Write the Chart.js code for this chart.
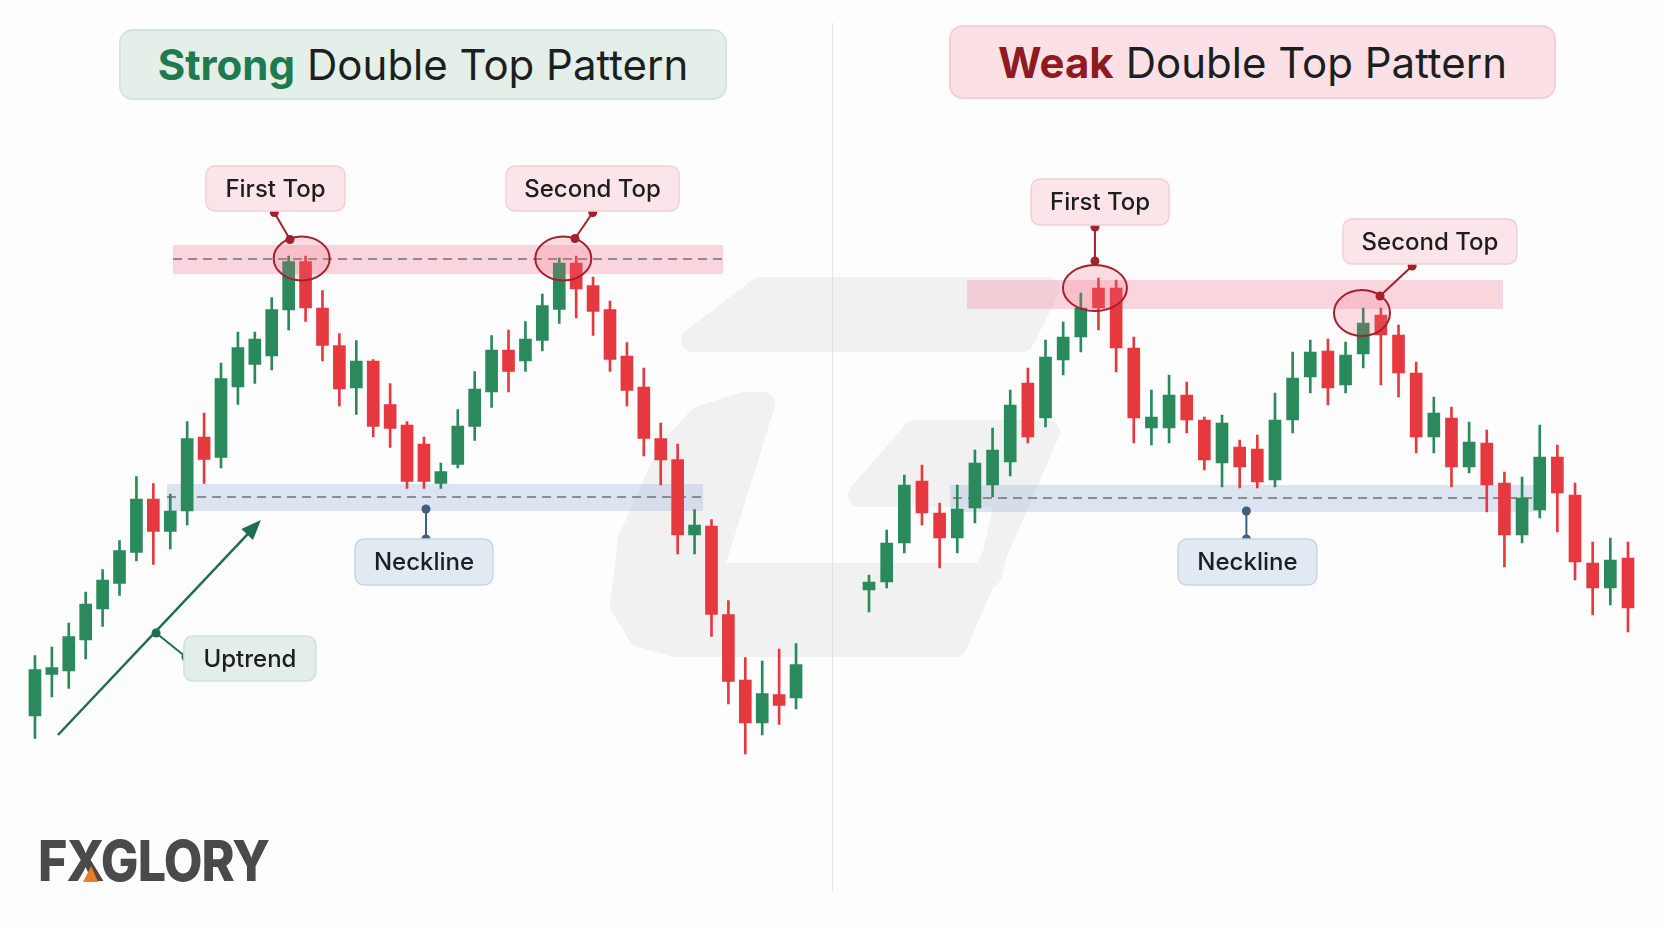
<!DOCTYPE html>
<html>
<head>
<meta charset="utf-8">
<script src="https://cdn.jsdelivr.net/npm/chart.js@4.4.0/dist/chart.umd.min.js"></script>
<style>
  html, body { margin: 0; padding: 0; background: #fdfdfd; }
  #page { position: relative; width: 1664px; height: 928px; overflow: hidden; font-family: Inter, "Open Sans", sans-serif; }
  #mark { position: absolute; left: 0; top: 0; }
  #divider { position: absolute; left: 832px; top: 23px; width: 1px; height: 868px; background: #e3e3e3; }
  canvas { position: absolute; top: 0; }
  .title { position: absolute; display: flex; align-items: center; justify-content: center; box-sizing: border-box;
           border-radius: 14px; font-size: 42px; color: #1c1f22; }
  .title b { font-weight: 700; margin-right: 12px; }
  #titleL { left: 119px; top: 29px; width: 608px; height: 71px; background: #e4efe9; border: 2px solid #d4e5db; }
  #titleL b { color: #1f7a50; }
  #titleR { left: 949px; top: 25px; width: 607px; height: 74px; background: #fbe1e5; border: 2px solid #f6ced5; }
  #titleR b { color: #8e1b1f; }
  #logo { position: absolute; left: 38px; top: 826px; font: 800 57px Inter, sans-serif; color: #4a4a4a;
          letter-spacing: -1px; transform: scaleX(0.88); transform-origin: 0 0; }
  #logoTri { position: absolute; left: 83px; top: 866px; width: 15px; height: 16px; background: #ee7a2a;
             clip-path: polygon(55% 0, 100% 100%, 0 100%); }
</style>
</head>
<body>
<div id="page">
  <svg id="mark" width="1664" height="928">
    <g fill="#f1f1f1" stroke="#f1f1f1" stroke-width="24" stroke-linejoin="round">
      <polygon points="760,289 1048,289 1022,340 693,340"/>
      <polygon points="745,404 763,404 710,575 990,575 1008,495 860,495 915,432 1048,432 955,645 675,645 640,635 622,605 630,540 669,452 700,418"/>
    </g>
  </svg>
  <div id="divider"></div>
  <canvas id="leftChart" width="833" height="928" style="left:0"></canvas>
  <canvas id="rightChart" width="831" height="928" style="left:833px"></canvas>
  <div class="title" id="titleL"><b>Strong</b>Double Top Pattern</div>
  <div class="title" id="titleR"><b>Weak</b>Double Top Pattern</div>
  <div id="logo">FXGLORY</div>
  <div id="logoTri"></div>
</div>
<script>
// strong double top (left panel), one value per candle
const leftOpen  = [108.8, 117.1, 117.8, 124.0, 130.2, 135.3, 141.5, 152.2, 145.7, 149.8, 164.6, 160.5, 174.6, 179.1, 180.8, 190.0,
                   199.7, 190.4, 182.9, 174.4, 179.8, 171.1, 167.0, 163.2, 155.3, 159.1, 166.7, 173.6, 182.0, 179.8, 183.9, 190.1,
                   199.4, 194.9, 190.1, 180.8, 174.6, 164.3, 160.1, 145.0, 146.8, 129.1, 116.0, 107.4, 113.1, 112.4];
const leftHigh  = [120.9, 122.6, 127.4, 133.6, 138.1, 143.9, 156.7, 155.3, 153.2, 167.7, 169.4, 179.4, 185.6, 185.6, 192.5, 200.8,
                   200.8, 193.9, 185.3, 183.9, 180.1, 175.3, 167.7, 164.6, 159.4, 170.1, 177.7, 184.9, 186.0, 187.7, 193.2, 200.4,
                   200.8, 196.6, 191.8, 183.5, 178.4, 167.4, 163.2, 150.1, 148.1, 131.9, 120.5, 119.8, 122.2, 123.3];
const leftLow   = [104.3, 112.6, 114.3, 120.2, 126.7, 132.9, 139.8, 139.1, 142.2, 147.0, 155.3, 158.4, 171.1, 175.3, 178.0, 186.0,
                   187.7, 179.8, 170.8, 169.1, 164.6, 162.5, 154.3, 154.3, 154.3, 158.4, 163.9, 170.5, 173.6, 177.7, 181.8, 187.3,
                   188.4, 184.9, 177.7, 170.8, 160.8, 155.0, 141.2, 141.2, 124.7, 111.2, 101.2, 105.0, 107.1, 110.2];
const leftClose = [118.1, 118.5, 124.7, 131.2, 136.0, 141.9, 152.2, 145.7, 149.8, 164.3, 160.1, 176.3, 182.5, 184.2, 190.1, 199.7,
                   190.4, 182.9, 174.2, 179.8, 166.7, 166.3, 155.7, 155.7, 157.7, 166.8, 174.2, 182.0, 177.7, 184.2, 190.9, 199.4,
                   194.2, 189.7, 180.1, 173.9, 164.3, 160.0, 145.0, 147.0, 129.1, 115.7, 107.4, 113.3, 110.9, 119.1];

// weak double top (right panel)
const rightOpen  = [134.0, 135.6, 143.4, 155.8, 149.4, 144.4, 150.4, 155.0, 159.6, 175.4, 168.4, 180.0, 184.6, 194.4, 194.4, 182.4,
                    166.4, 166.4, 173.0, 168.0, 159.4, 162.6, 162.2, 156.0, 168.0, 176.6, 181.8, 175.0, 181.2, 189.0, 185.0, 177.4,
                    164.6, 168.4, 158.6, 163.4, 155.4, 145.0, 150.0, 160.6, 153.0, 139.4, 134.4, 140.4];
const rightHigh  = [137.0, 146.0, 157.0, 159.0, 151.4, 155.0, 162.0, 166.4, 174.0, 178.4, 184.0, 187.6, 193.4, 196.4, 196.0, 184.6,
                    174.0, 177.0, 175.6, 168.6, 169.0, 164.0, 165.0, 173.4, 181.6, 184.0, 184.2, 183.6, 190.4, 190.4, 187.0, 179.6,
                    172.6, 170.6, 167.6, 166.0, 157.6, 156.6, 167.0, 163.0, 155.4, 143.6, 144.4, 143.6];
const rightLow   = [129.6, 134.4, 141.4, 147.0, 138.4, 141.4, 147.4, 152.6, 156.8, 163.4, 166.6, 177.0, 181.6, 186.0, 177.6, 163.4,
                    163.0, 163.4, 165.4, 158.0, 154.6, 154.4, 154.4, 154.6, 165.4, 173.4, 171.0, 173.4, 178.4, 175.0, 172.6, 161.4,
                    161.4, 154.6, 157.4, 149.6, 138.6, 143.4, 148.4, 145.6, 136.0, 129.0, 131.0, 125.6];
const rightClose = [135.6, 143.4, 155.0, 149.4, 144.4, 150.2, 159.4, 162.0, 171.0, 164.6, 180.6, 184.6, 190.4, 190.4, 182.4, 168.4,
                    168.6, 173.0, 168.0, 160.0, 167.4, 158.6, 155.6, 168.0, 176.4, 181.6, 174.4, 181.0, 187.4, 185.0, 177.4, 164.6,
                    169.4, 158.6, 163.6, 155.0, 145.0, 152.4, 160.6, 153.4, 139.6, 134.4, 140.0, 130.4];

const leftLabels = leftOpen.map((_, i) => i + 1);
const rightLabels = rightOpen.map((_, i) => i + 1);

const GREEN = '#2a8a5c';
const RED = '#e5393f';
const TOP_RED = '#a3202c';
const NECK_BLUE = '#3f5f80';
const TREND_GREEN = '#1e6e4e';

const leftNotes = {
  bands: [
    { from: 8.16, to: 40.69, top: 203.0, bottom: 197.2, color: 'rgba(246,148,168,0.38)', dash: 200.2 },
    { from: 7.81, to: 39.5, top: 155.2, bottom: 149.8, color: 'rgba(172,194,222,0.42)', dash: 152.6 }
  ],
  circles: [
    { x: 15.77, y: 200.3, rx: 28, ry: 22 },
    { x: 31.24, y: 200.3, rx: 28, ry: 22 }
  ],
  links: [
    { x0: 14.15, y0: 209.5, x1: 15.08, y1: 204.1, color: TOP_RED },
    { x0: 32.98, y0: 209.5, x1: 31.93, y1: 204.3, color: TOP_RED },
    { x0: 23.12, y0: 150.2, x1: 23.12, y1: 144.2, color: NECK_BLUE },
    { x0: 7.16, y0: 125.4, x1: 8.93, y1: 120.6, color: TREND_GREEN }
  ],
  labels: [
    { text: 'First Top', x: 14.22, y: 214.3, w: 139, h: 45, fill: '#fbe5e8', stroke: '#f2d0d5' },
    { text: 'Second Top', x: 32.97, y: 214.3, w: 173, h: 45, fill: '#fbe5e8', stroke: '#f2d0d5' },
    { text: 'Neckline', x: 23.0, y: 139.6, w: 138, h: 46, fill: '#e1e9f2', stroke: '#c8d6e5' },
    { text: 'Uptrend', x: 12.71, y: 120.3, w: 132, h: 45, fill: '#e4eee8', stroke: '#d0e1d6' }
  ],
  arrows: [
    { x0: 1.36, y0: 105.0, x1: 13.36, y1: 148.0, color: TREND_GREEN }
  ]
};

const rightNotes = {
  bands: [
    { from: 5.55, to: 35.92, top: 196.0, bottom: 190.2, color: 'rgba(246,148,168,0.38)' },
    { from: 4.59, to: 38.02, top: 155.0, bottom: 149.6, color: 'rgba(172,194,222,0.42)', dash: 152.4, dashFrom: 4.76 }
  ],
  circles: [
    { x: 12.8, y: 194.4, rx: 32, ry: 23 },
    { x: 27.93, y: 189.4, rx: 28, ry: 23 }
  ],
  links: [
    { x0: 12.8, y0: 206.6, x1: 12.8, y1: 199.8, color: TOP_RED },
    { x0: 30.77, y0: 198.8, x1: 28.95, y1: 192.8, color: TOP_RED },
    { x0: 21.38, y0: 149.8, x1: 21.38, y1: 144.2, color: NECK_BLUE }
  ],
  labels: [
    { text: 'First Top', x: 13.09, y: 211.6, w: 138, h: 46, fill: '#fbe5e8', stroke: '#f2d0d5' },
    { text: 'Second Top', x: 31.78, y: 203.7, w: 174, h: 45, fill: '#fbe5e8', stroke: '#f2d0d5' },
    { text: 'Neckline', x: 21.44, y: 139.6, w: 139, h: 46, fill: '#e1e9f2', stroke: '#c8d6e5' }
  ],
  arrows: []
};

const notesPlugin = {
  id: 'notes',
  beforeDatasetsDraw(chart, args, opts) {
    const { ctx, scales: { x, y } } = chart;
    ctx.save();
    opts.bands.forEach(b => {
      const x0 = x.getPixelForValue(b.from), x1 = x.getPixelForValue(b.to);
      const y0 = y.getPixelForValue(b.top), y1 = y.getPixelForValue(b.bottom);
      ctx.fillStyle = b.color;
      ctx.fillRect(x0, y0, x1 - x0, y1 - y0);
      if (b.dash != null) {
        const yd = y.getPixelForValue(b.dash);
        ctx.strokeStyle = '#707070';
        ctx.lineWidth = 1.3;
        ctx.setLineDash([9, 6]);
        ctx.beginPath();
        ctx.moveTo(x.getPixelForValue(b.dashFrom != null ? b.dashFrom : b.from), yd);
        ctx.lineTo(x1, yd);
        ctx.stroke();
        ctx.setLineDash([]);
      }
    });
    ctx.restore();
  },
  afterDatasetsDraw(chart, args, opts) {
    const { ctx, scales: { x, y } } = chart;
    ctx.save();
    opts.circles.forEach(c => {
      ctx.beginPath();
      ctx.ellipse(x.getPixelForValue(c.x), y.getPixelForValue(c.y), c.rx, c.ry, 0, 0, Math.PI * 2);
      ctx.fillStyle = 'rgba(240,110,130,0.22)';
      ctx.fill();
      ctx.strokeStyle = TOP_RED;
      ctx.lineWidth = 2;
      ctx.stroke();
    });
    opts.links.forEach(l => {
      const ax = x.getPixelForValue(l.x0), ay = y.getPixelForValue(l.y0);
      const bx = x.getPixelForValue(l.x1), by = y.getPixelForValue(l.y1);
      ctx.strokeStyle = l.color;
      ctx.fillStyle = l.color;
      ctx.lineWidth = 2;
      ctx.beginPath();
      ctx.moveTo(ax, ay);
      ctx.lineTo(bx, by);
      ctx.stroke();
      [[ax, ay], [bx, by]].forEach(([px, py]) => {
        ctx.beginPath();
        ctx.arc(px, py, 4.5, 0, Math.PI * 2);
        ctx.fill();
      });
    });
    opts.arrows.forEach(a => {
      const ax = x.getPixelForValue(a.x0), ay = y.getPixelForValue(a.y0);
      const bx = x.getPixelForValue(a.x1), by = y.getPixelForValue(a.y1);
      const ang = Math.atan2(by - ay, bx - ax);
      ctx.strokeStyle = a.color;
      ctx.fillStyle = a.color;
      ctx.lineWidth = 2.5;
      ctx.beginPath();
      ctx.moveTo(ax, ay);
      ctx.lineTo(bx - 10 * Math.cos(ang), by - 10 * Math.sin(ang));
      ctx.stroke();
      ctx.beginPath();
      ctx.moveTo(bx, by);
      ctx.lineTo(bx - 20 * Math.cos(ang) + 8 * Math.sin(ang), by - 20 * Math.sin(ang) - 8 * Math.cos(ang));
      ctx.lineTo(bx - 20 * Math.cos(ang) - 8 * Math.sin(ang), by - 20 * Math.sin(ang) + 8 * Math.cos(ang));
      ctx.closePath();
      ctx.fill();
    });
    opts.labels.forEach(lb => {
      const cx = x.getPixelForValue(lb.x), cy = y.getPixelForValue(lb.y);
      ctx.beginPath();
      ctx.roundRect(cx - lb.w / 2, cy - lb.h / 2, lb.w, lb.h, 9);
      ctx.fillStyle = lb.fill;
      ctx.fill();
      ctx.strokeStyle = lb.stroke;
      ctx.lineWidth = 1.5;
      ctx.stroke();
      ctx.fillStyle = '#1e1e1e';
      ctx.font = '500 24px Inter, sans-serif';
      ctx.textAlign = 'center';
      ctx.textBaseline = 'middle';
      ctx.fillText(lb.text, cx, cy + 1);
    });
    ctx.restore();
  }
};

function candleSets(open, high, low, close) {
  const colors = open.map((o, i) => close[i] >= o ? GREEN : RED);
  return [
    { label: 'wick', data: low.map((l, i) => [l, high[i]]), backgroundColor: colors,
      barThickness: 2, grouped: false, order: 2 },
    { label: 'body', data: open.map((o, i) => [o, close[i]]), backgroundColor: colors,
      barThickness: 12, grouped: false, order: 1, minBarLength: 3 }
  ];
}

function makeChart(id, labels, open, high, low, close, notes, pad) {
  return new Chart(document.getElementById(id), {
    type: 'bar',
    data: { labels: labels, datasets: candleSets(open, high, low, close) },
    options: {
      responsive: false,
      animation: false,
      layout: { padding: pad },
      plugins: { legend: { display: false }, tooltip: { enabled: false }, notes: notes },
      scales: {
        x: { display: false, offset: true, grid: { display: false } },
        y: { display: false, min: 70, max: 250 }
      }
    },
    plugins: [notesPlugin]
  });
}

makeChart('leftChart', leftLabels, leftOpen, leftHigh, leftLow, leftClose, leftNotes,
  { left: 26.5, right: 28.5, top: 10, bottom: 18 });
makeChart('rightChart', rightLabels, rightOpen, rightHigh, rightLow, rightClose, rightNotes,
  { left: 27.2, right: 27.2, top: 10, bottom: 18 });
</script>
</body>
</html>
